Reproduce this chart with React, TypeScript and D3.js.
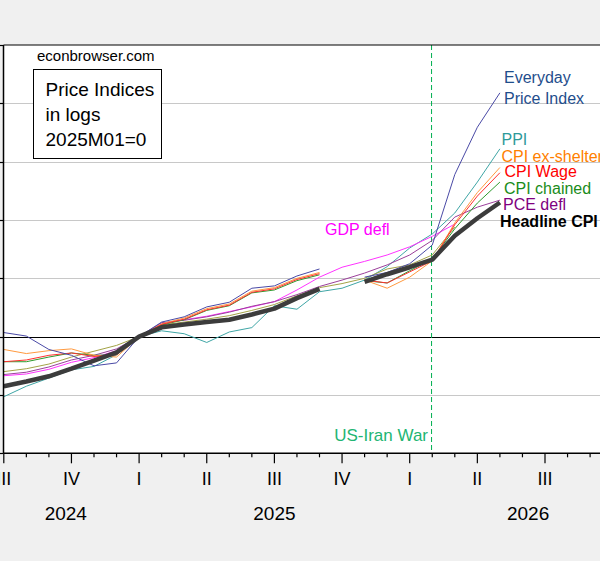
import { useEffect, useRef } from "react";
import * as d3 from "d3";

// monthly observations, log price index x100, 2025M01 = 0
const months = [
  "2024M07", "2024M08", "2024M09", "2024M10", "2024M11", "2024M12",
  "2025M01", "2025M02", "2025M03", "2025M04", "2025M05", "2025M06",
  "2025M07", "2025M08", "2025M09", "2025M10", "2025M11", "2025M12",
  "2026M01", "2026M02", "2026M03", "2026M04", "2026M05",
];

const quarterLabels = ["III", "IV", "I", "II", "III", "IV", "I", "II", "III"];
const yearLabels = ["2024", "2025", "2026"];

const everyday = [0.07, 0.01, -0.22, -0.32, -0.5, -0.45, 0, 0.25, 0.34, 0.51, 0.59, 0.83, 0.87, 1.04, 1.16, null, 1.02, 1.1, 1.25, 1.57, 2.78, 3.59, 4.18];
const ppi = [-1.03, -0.85, -0.71, -0.57, -0.51, -0.31, 0, 0.1, 0.05, -0.1, 0.08, 0.155, 0.53, 0.47, 0.77, 0.83, 0.97, 1.2, 1.52, 1.76, 2.12, 2.65, 3.22];
const cpiExShelter = [-0.22, -0.29, -0.24, -0.21, -0.32, -0.35, 0, 0.22, 0.32, 0.48, 0.56, 0.78, 0.84, 1.0, 1.1, null, 0.97, 0.83, 1.02, 1.3, 1.95, 2.47, 2.9];
const cpiWage = [-0.43, -0.4, -0.32, -0.28, -0.34, -0.31, 0, 0.21, 0.3, 0.46, 0.54, 0.76, 0.82, 0.98, 1.08, null, 0.97, 0.92, 1.11, 1.3, 1.92, 2.41, 2.81];
const cpiChained = [-0.43, -0.43, -0.35, -0.28, -0.32, -0.31, 0, 0.2, 0.29, 0.45, 0.53, 0.75, 0.8, 0.96, 1.06, null, 0.96, 0.92, 1.13, 1.33, 1.85, 2.29, 2.65];
const pceDefl = [-0.65, -0.61, -0.52, -0.4, -0.32, -0.21, 0, 0.24, 0.28, 0.34, 0.42, 0.52, 0.6, 0.72, 0.86, 0.97, 1.09, 1.23, 1.4, 1.65, 2.05, 2.22, 2.34];
const gdpDefl = [-0.67, -0.64, -0.56, -0.44, -0.36, -0.24, 0, 0.22, 0.29, 0.35, 0.43, 0.51, 0.6, 0.8, 1.02, 1.19, 1.29, 1.4, 1.54, 1.72, 1.93, null, null];
const otherCpi = [-0.6, -0.55, -0.47, -0.35, -0.25, -0.15, 0, 0.2, 0.25, 0.3, 0.36, 0.45, 0.55, 0.7, 0.84, 0.91, 1.0, 1.16, 1.23, 1.4, 1.88, null, null];
const headlineCpi = [-0.85, -0.77, -0.68, -0.55, -0.41, -0.27, 0, 0.16, 0.21, 0.25, 0.29, 0.38, 0.48, 0.66, 0.82, null, 0.94, 1.07, 1.19, 1.32, 1.73, 2.03, 2.3];

const yTicks = [-2, -1, 0, 1, 2, 3, 4, 5];

const FONT = "Arial, 'Liberation Sans', sans-serif";

export default function App() {
  const svgRef = useRef<SVGSVGElement>(null);

  useEffect(() => {
    if (!svgRef.current) return;
    const svg = d3.select(svgRef.current);
    svg.selectAll("*").remove();

    const width = 600;
    const height = 561;
    const top = 45;
    const bottom = 453.3;
    const left = 3.5;

    const x = d3.scaleLinear().domain([0, 24]).range([3.8, 545]);
    const y = d3.scaleLinear().domain([-2, 5]).range([bottom, top]);

    svg.append("rect").attr("width", width).attr("height", height).attr("fill", "#f0f0f0");
    svg
      .append("rect")
      .attr("x", left)
      .attr("y", top)
      .attr("width", width - left + 10)
      .attr("height", bottom - top)
      .attr("fill", "#ffffff");

    // grid
    svg
      .append("g")
      .selectAll("line")
      .data(yTicks.filter((t) => t !== 0 && t !== 5 && t !== -2))
      .join("line")
      .attr("x1", left)
      .attr("x2", width)
      .attr("y1", (d) => Math.round(y(d)) + 0.5)
      .attr("y2", (d) => Math.round(y(d)) + 0.5)
      .attr("stroke", "#c8c8c8")
      .attr("stroke-width", 1);

    // zero line
    svg
      .append("line")
      .attr("x1", left)
      .attr("x2", width)
      .attr("y1", Math.round(y(0)) + 0.5)
      .attr("y2", Math.round(y(0)) + 0.5)
      .attr("stroke", "#000")
      .attr("stroke-width", 1.2);

    // event marker
    const xEvent = x(months.indexOf("2026M02")) - 0.7;
    svg
      .append("line")
      .attr("x1", xEvent)
      .attr("x2", xEvent)
      .attr("y1", top)
      .attr("y2", bottom)
      .attr("stroke", "#00b050")
      .attr("stroke-width", 1)
      .attr("stroke-dasharray", "5,3");

    svg
      .append("text")
      .attr("x", 428)
      .attr("y", 441)
      .attr("text-anchor", "end")
      .attr("font-family", FONT)
      .attr("font-size", 17)
      .attr("fill", "#22b573")
      .text("US-Iran War");

    // lines
    const line = d3
      .line<number | null>()
      .defined((d) => d != null)
      .x((_, i) => x(i))
      .y((d) => y(d as number));

    const series: { data: (number | null)[]; color: string; w: number }[] = [
      { data: ppi, color: "#3fa6a6", w: 1 },
      { data: gdpDefl, color: "#ff33ff", w: 1 },
      { data: otherCpi, color: "#a3a347", w: 1 },
      { data: pceDefl, color: "#9b3f9b", w: 1 },
      { data: cpiChained, color: "#2e9a2e", w: 1 },
      { data: cpiExShelter, color: "#ff9a40", w: 1 },
      { data: cpiWage, color: "#ff3030", w: 1 },
      { data: everyday, color: "#4a4aa6", w: 1 },
      { data: headlineCpi, color: "#3c3c3c", w: 4.5 },
    ];

    svg
      .append("g")
      .selectAll("path")
      .data(series)
      .join("path")
      .attr("d", (s) => line(s.data))
      .attr("fill", "none")
      .attr("stroke", (s) => s.color)
      .attr("stroke-width", (s) => s.w)
      .attr("stroke-linejoin", "round");

    // frame
    svg
      .append("line")
      .attr("x1", left)
      .attr("x2", width)
      .attr("y1", top)
      .attr("y2", top)
      .attr("stroke", "#000");
    svg
      .append("line")
      .attr("x1", left)
      .attr("x2", left)
      .attr("y1", top)
      .attr("y2", bottom)
      .attr("stroke", "#000")
      .attr("stroke-width", 1.5);
    svg
      .append("line")
      .attr("x1", left)
      .attr("x2", width)
      .attr("y1", bottom)
      .attr("y2", bottom)
      .attr("stroke", "#000")
      .attr("stroke-width", 1.5);

    // y ticks (labels lie outside the cropped view)
    svg
      .append("g")
      .selectAll("line")
      .data(yTicks)
      .join("line")
      .attr("x1", 0)
      .attr("x2", left)
      .attr("y1", (d) => Math.round(y(d)) + 0.5)
      .attr("y2", (d) => Math.round(y(d)) + 0.5)
      .attr("stroke", "#000")
      .attr("stroke-width", 1.2);

    // x ticks: monthly, long on quarter starts
    const tickIdx = d3.range(0, 28);
    svg
      .append("g")
      .selectAll("line")
      .data(tickIdx)
      .join("line")
      .attr("x1", (d) => x(d))
      .attr("x2", (d) => x(d))
      .attr("y1", bottom)
      .attr("y2", (d) => bottom + (d % 3 === 0 ? 10 : 4))
      .attr("stroke", "#000")
      .attr("stroke-width", 1.2);

    svg
      .append("g")
      .selectAll("text")
      .data(quarterLabels)
      .join("text")
      .attr("x", (_, i) => x(i * 3))
      .attr("y", 485)
      .attr("text-anchor", "middle")
      .attr("font-family", FONT)
      .attr("font-size", 18)
      .attr("fill", "#000")
      .text((d) => d);

    const yearCenters = [
      (x(-0.5) + x(6)) / 2,
      (x(6) + x(18)) / 2,
      (x(18) + x(28.5)) / 2,
    ];
    svg
      .append("g")
      .selectAll("text")
      .data(yearLabels)
      .join("text")
      .attr("x", (_, i) => yearCenters[i])
      .attr("y", 520)
      .attr("text-anchor", "middle")
      .attr("font-family", FONT)
      .attr("font-size", 19)
      .attr("fill", "#000")
      .text((d) => d);

    // series labels
    const labels = [
      { t: "Everyday", x: 504, y: 83, c: "#1f4e8c", b: false },
      { t: "Price Index", x: 504, y: 104, c: "#1f4e8c", b: false },
      { t: "PPI", x: 501.5, y: 145, c: "#2e9a9a", b: false },
      { t: "CPI ex-shelter", x: 501.5, y: 161.5, c: "#ff8000", b: false },
      { t: "CPI Wage", x: 504.5, y: 177, c: "#ff0000", b: false },
      { t: "CPI chained", x: 504, y: 193.5, c: "#1a8c1a", b: false },
      { t: "PCE defl", x: 503, y: 209.5, c: "#800080", b: false },
      { t: "Headline CPI", x: 500, y: 226.5, c: "#000000", b: true },
      { t: "GDP defl", x: 325, y: 235, c: "#ff00ff", b: false },
    ];
    svg
      .append("g")
      .selectAll("text")
      .data(labels)
      .join("text")
      .attr("x", (d) => d.x)
      .attr("y", (d) => d.y)
      .attr("font-family", FONT)
      .attr("font-size", 16)
      .attr("font-weight", (d) => (d.b ? "bold" : "normal"))
      .attr("fill", (d) => d.c)
      .text((d) => d.t);

    // source + title box
    svg
      .append("text")
      .attr("x", 37)
      .attr("y", 60.7)
      .attr("font-family", FONT)
      .attr("font-size", 15)
      .attr("fill", "#000")
      .text("econbrowser.com");

    svg
      .append("rect")
      .attr("x", 33.5)
      .attr("y", 69.5)
      .attr("width", 128)
      .attr("height", 89)
      .attr("fill", "#fff")
      .attr("stroke", "#000")
      .attr("stroke-width", 1);

    const boxLines = ["Price Indices", "in logs", "2025M01=0"];
    svg
      .append("g")
      .selectAll("text")
      .data(boxLines)
      .join("text")
      .attr("x", 45.5)
      .attr("y", (_, i) => 95.7 + i * 25)
      .attr("font-family", FONT)
      .attr("font-size", 19)
      .attr("fill", "#000")
      .text((d) => d);
  }, []);

  return (
    <div style={{ position: "absolute", left: 0, top: 0 }}>
      <svg ref={svgRef} width={600} height={561} style={{ display: "block" }} />
    </div>
  );
}
